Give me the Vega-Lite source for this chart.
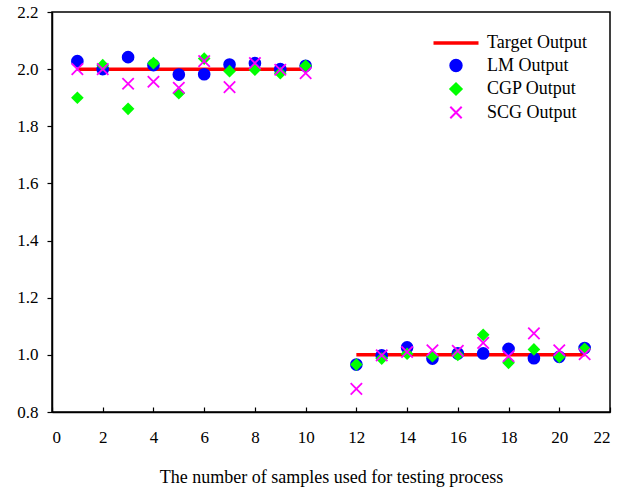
{
  "$schema": "https://vega.github.io/schema/vega-lite/v6.json",
  "width": 558,
  "height": 400,
  "autosize": "none",
  "padding": {"left": 52, "top": 12, "right": 17, "bottom": 78},
  "background": "white",
  "config": {
    "view": {"stroke": "black", "strokeWidth": 1.5},
    "font": "Liberation Serif",
    "axis": {"grid": false, "domainColor": "black", "tickColor": "black", "labelColor": "black", "titleColor": "black", "labelFont": "Liberation Serif", "titleFont": "Liberation Serif", "labelFontSize": 17, "titleFontSize": 18, "titleFontWeight": "normal", "domainWidth": 1.5, "tickWidth": 1.2}
  },
  "datasets": {
    "target": [
      {"x": 1, "y": 2.0, "series": "Target Output", "seg": "a"},
      {"x": 10, "y": 2.0, "series": "Target Output", "seg": "a"},
      {"x": 12, "y": 1.0, "series": "Target Output", "seg": "b"},
      {"x": 21, "y": 1.0, "series": "Target Output", "seg": "b"}
    ],
    "pts": [
      {"x": 1, "y": 2.028, "series": "LM Output"},
      {"x": 2, "y": 2.0, "series": "LM Output"},
      {"x": 3, "y": 2.042, "series": "LM Output"},
      {"x": 4, "y": 2.014, "series": "LM Output"},
      {"x": 5, "y": 1.981, "series": "LM Output"},
      {"x": 6, "y": 1.982, "series": "LM Output"},
      {"x": 7, "y": 2.016, "series": "LM Output"},
      {"x": 8, "y": 2.021, "series": "LM Output"},
      {"x": 9, "y": 2.0, "series": "LM Output"},
      {"x": 10, "y": 2.012, "series": "LM Output"},
      {"x": 12, "y": 0.966, "series": "LM Output"},
      {"x": 13, "y": 0.998, "series": "LM Output"},
      {"x": 14, "y": 1.026, "series": "LM Output"},
      {"x": 15, "y": 0.987, "series": "LM Output"},
      {"x": 16, "y": 1.005, "series": "LM Output"},
      {"x": 17, "y": 1.005, "series": "LM Output"},
      {"x": 18, "y": 1.021, "series": "LM Output"},
      {"x": 19, "y": 0.988, "series": "LM Output"},
      {"x": 20, "y": 0.993, "series": "LM Output"},
      {"x": 21, "y": 1.024, "series": "LM Output"},
      {"x": 1, "y": 1.9, "series": "CGP Output"},
      {"x": 2, "y": 2.014, "series": "CGP Output"},
      {"x": 3, "y": 1.861, "series": "CGP Output"},
      {"x": 4, "y": 2.021, "series": "CGP Output"},
      {"x": 5, "y": 1.916, "series": "CGP Output"},
      {"x": 6, "y": 2.037, "series": "CGP Output"},
      {"x": 7, "y": 1.993, "series": "CGP Output"},
      {"x": 8, "y": 1.998, "series": "CGP Output"},
      {"x": 9, "y": 1.986, "series": "CGP Output"},
      {"x": 10, "y": 2.012, "series": "CGP Output"},
      {"x": 12, "y": 0.966, "series": "CGP Output"},
      {"x": 13, "y": 0.987, "series": "CGP Output"},
      {"x": 14, "y": 1.004, "series": "CGP Output"},
      {"x": 15, "y": 0.995, "series": "CGP Output"},
      {"x": 16, "y": 1.0, "series": "CGP Output"},
      {"x": 17, "y": 1.07, "series": "CGP Output"},
      {"x": 18, "y": 0.972, "series": "CGP Output"},
      {"x": 19, "y": 1.019, "series": "CGP Output"},
      {"x": 20, "y": 0.993, "series": "CGP Output"},
      {"x": 21, "y": 1.021, "series": "CGP Output"},
      {"x": 1, "y": 2.0, "series": "SCG Output"},
      {"x": 2, "y": 2.0, "series": "SCG Output"},
      {"x": 3, "y": 1.949, "series": "SCG Output"},
      {"x": 4, "y": 1.956, "series": "SCG Output"},
      {"x": 5, "y": 1.935, "series": "SCG Output"},
      {"x": 6, "y": 2.028, "series": "SCG Output"},
      {"x": 7, "y": 1.937, "series": "SCG Output"},
      {"x": 8, "y": 2.021, "series": "SCG Output"},
      {"x": 9, "y": 1.998, "series": "SCG Output"},
      {"x": 10, "y": 1.986, "series": "SCG Output"},
      {"x": 12, "y": 0.881, "series": "SCG Output"},
      {"x": 13, "y": 0.998, "series": "SCG Output"},
      {"x": 14, "y": 1.01, "series": "SCG Output"},
      {"x": 15, "y": 1.016, "series": "SCG Output"},
      {"x": 16, "y": 1.014, "series": "SCG Output"},
      {"x": 17, "y": 1.042, "series": "SCG Output"},
      {"x": 18, "y": 0.995, "series": "SCG Output"},
      {"x": 19, "y": 1.075, "series": "SCG Output"},
      {"x": 20, "y": 1.016, "series": "SCG Output"},
      {"x": 21, "y": 1.002, "series": "SCG Output"}
    ]
  },
  "encoding": {
    "x": {"field": "x", "type": "quantitative", "scale": {"domain": [0, 22], "nice": false},
      "axis": {"values": [0, 2, 4, 6, 8, 10, 12, 14, 16, 18, 20, 22], "tickSize": -5, "labelPadding": 22, "title": "The number of samples used for testing process", "titlePadding": 23,
        "encode": {"labels": {"update": {"font": {"value": "Liberation Serif"}, "fontSize": {"value": 17}}}}}},
    "y": {"field": "y", "type": "quantitative", "scale": {"domain": [0.8, 2.2], "nice": false, "zero": false},
      "axis": {"values": [0.8, 1.0, 1.2, 1.4, 1.6, 1.8, 2.0, 2.2], "format": ".1f", "tickSize": 5, "labelPadding": 9, "title": null,
        "encode": {"labels": {"update": {"font": {"value": "Liberation Serif"}, "fontSize": {"value": 17}}}}}}
  },
  "layer": [
    {
      "data": {"name": "target"},
      "mark": {"type": "line", "strokeWidth": 3.5},
      "encoding": {
        "detail": {"field": "seg"},
        "color": {"field": "series", "type": "nominal",
          "scale": {"domain": ["Target Output", "LM Output", "CGP Output", "SCG Output"], "range": ["#ff0000", "#0000ff", "#00ff00", "#ff00ff"]},
          "legend": {"title": null, "orient": "none", "legendX": 395, "legendY": 22, "padding": 0,
            "labelFont": "Liberation Serif", "labelFontSize": 18, "labelColor": "black", "labelOffset": 22, "rowPadding": 3.5, "symbolSize": 150,
            "encode": {"symbols": {"update": {
              "stroke": {"signal": "scale('color', datum.value)"},
              "fill": {"signal": "(datum.value === 'SCG Output' || datum.value === 'Target Output') ? 'transparent' : scale('color', datum.value)"},
              "strokeWidth": {"signal": "datum.value === 'Target Output' ? 3.5 : 2"},
              "size": {"signal": "datum.value === 'Target Output' ? 2025 : 130"}
            }}}}
        }
      }
    },
    {
      "data": {"name": "pts"},
      "transform": [{"filter": "datum.series !== 'SCG Output'"}],
      "mark": {"type": "point", "filled": true, "opacity": 1, "size": 160},
      "encoding": {
        "color": {"field": "series", "type": "nominal"},
        "shape": {"field": "series", "type": "nominal",
          "scale": {"domain": ["Target Output", "LM Output", "CGP Output", "SCG Output"], "range": ["stroke", "circle", "diamond", "M-1,-1L1,1M-1,1L1,-1"]}}
      }
    },
    {
      "data": {"name": "pts"},
      "transform": [{"filter": "datum.series === 'SCG Output'"}],
      "mark": {"type": "point", "filled": false, "opacity": 1, "size": 130, "strokeWidth": 1.8},
      "encoding": {
        "color": {"field": "series", "type": "nominal"},
        "shape": {"field": "series", "type": "nominal"}
      }
    }
  ]
}
